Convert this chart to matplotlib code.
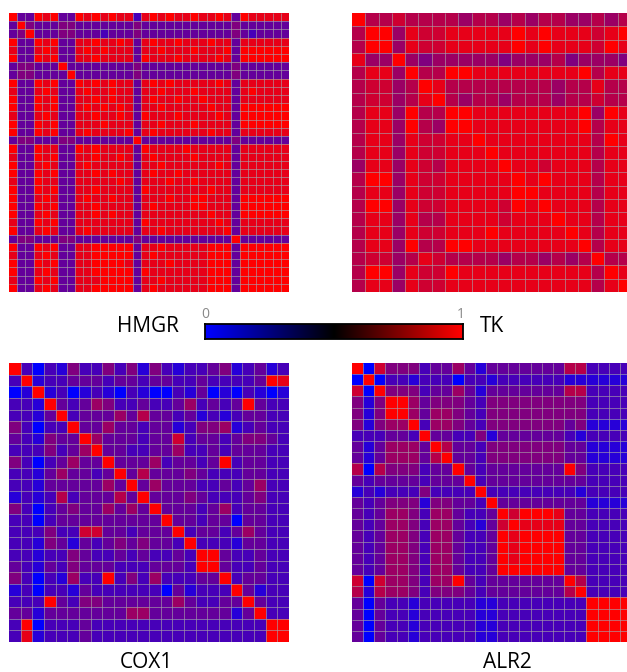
import matplotlib
matplotlib.use("Agg")
import matplotlib.pyplot as plt
import numpy as np
from matplotlib.colors import LinearSegmentedColormap

# ======================
# data (similarity levels 0-9)
# ======================
hmgr_rows = [
    "9 33 989 33 9898988 2 89898898898 3 988888",
    "3 94 333 44 3333333 4 33333333333 4 333333",
    "3 49 333 44 3332333 4 33333333333 4 323333",
    "9 33 989 33 8898898 3 89889888988 3 888888",
    "8 33 898 33 8989888 3 88988898889 3 999999",
    "9 33 989 33 8898888 3 98889888898 3 999999",
    "3 44 333 93 3333333 4 33333333333 4 333333",
    "3 44 333 39 3333333 4 33333333333 4 333333",
    "9 33 989 33 9898988 3 89898888898 3 888888",
    "8 33 898 33 8988988 3 88988898888 3 898888",
    "9 33 989 33 8898988 3 89889889888 3 888888",
    "9 33 989 33 8989898 3 88988888988 3 999999",
    "8 33 898 33 8898898 3 98889888898 3 999999",
    "9 33 989 33 8889888 3 88988898888 3 999999",
    "9 33 989 33 8988889 3 89888888988 3 888888",
    "3 44 333 44 3333333 9 33333333333 4 333333",
    "9 33 988 33 9898888 3 98888988888 3 888888",
    "8 33 989 33 8898898 3 89888898888 3 888888",
    "9 33 898 33 8988888 3 88988888898 3 888888",
    "9 33 989 33 8898988 3 89889888888 3 888888",
    "8 33 988 33 8888898 3 88898898888 3 888888",
    "9 33 989 33 8898888 3 98888888988 3 888888",
    "9 33 898 33 8988988 3 88898899888 3 999999",
    "9 33 989 33 8898888 3 89888899888 3 999999",
    "9 33 898 33 8898988 3 88888888988 3 999999",
    "8 33 989 33 8888888 3 98888888898 3 888888",
    "9 33 898 33 8988888 3 88988888889 3 888888",
    "3 44 333 44 3333333 4 33333333333 9 333333",
    "9 33 989 33 8899999 3 88988888999 3 999999",
    "8 33 898 33 8899999 3 89888888999 3 999999",
    "9 33 989 33 8899998 3 88898888999 3 999999",
    "9 33 898 33 8899999 3 98888888999 3 999999",
    "8 33 989 33 8889999 3 88988888999 3 999999",
    "9 33 898 33 8899999 3 89888888999 3 999999",
]

tk_rows = [
    "96676 66656 65656 65565 6",
    "69958 77888 88989 88878 9",
    "69958 77888 88989 88879 8",
    "85595 45555 54555 64555 4",
    "68859 66998 88888 88968 8",
    "67756 98666 66666 56686 6",
    "67756 89656 65666 56676 6",
    "68859 66998 88888 88959 8",
    "68859 65998 88888 88968 8",
    "68858 77889 88888 88869 8",
    "68858 77888 98888 88868 8",
    "58858 76888 89887 88868 8",
    "69958 77888 88989 88868 8",
    "68858 77888 88998 88868 8",
    "69958 77888 87989 88868 8",
    "68858 66888 87888 98868 8",
    "68858 77888 98888 89868 8",
    "68859 66998 88888 88968 8",
    "67756 87666 65665 65696 6",
    "69958 77988 88888 88869 8",
    "68858 77888 88888 88868 9",
]

cox1_rows = [
    "920214 224241 421223 412312",
    "291223 332332 332232 222398",
    "019120 121021 002130 102101",
    "221932 354223 223523 239322",
    "221392 333536 332312 123322",
    "420229 335332 331244 512322",
    "321433 953332 337233 234432",
    "222423 593322 335223 233322",
    "420235 339333 523323 923322",
    "221353 323936 333432 223322",
    "221333 335393 533322 323522",
    "121262 333639 333432 223422",
    "420234 335353 933323 523322",
    "220233 333333 393323 303322",
    "222422 773323 339233 235322",
    "221431 323434 332922 213322",
    "221224 322323 223299 322322",
    "321324 333222 333299 322322",
    "420215 229242 522233 923322",
    "120221 322222 203122 293122",
    "222932 443333 335322 339322",
    "331333 333355 333333 313922",
    "290222 322222 222222 222299",
    "281222 322222 222222 222299",
]

alr2_rows = [
    "90744 42335 31333 33336 62222",
    "09022 12220 22122 22221 11111",
    "70944 42335 31333 33336 62222",
    "41499 53444 32444 44444 42222",
    "41499 53554 32444 44444 42222",
    "41455 92554 32444 44443 41111",
    "22233 29332 24133 33332 12222",
    "31355 53963 32444 44443 31111",
    "31355 53693 32444 44443 31111",
    "60644 42339 32333 33339 42222",
    "32333 32333 92333 33333 32222",
    "12122 24222 29222 22222 12222",
    "32344 41443 32933 33333 31111",
    "32355 42553 22397 99983 32222",
    "32355 42553 21379 88883 32222",
    "32355 42553 22398 99993 32222",
    "32355 42553 22398 99993 32222",
    "32355 42553 22398 99993 32222",
    "32355 42553 22399 99993 32222",
    "70755 42559 32333 33339 62222",
    "61655 42444 32333 33336 92222",
    "30322 12222 21122 22222 29999",
    "30322 12222 21122 22222 29999",
    "30322 12222 21122 22222 29999",
    "30322 12222 21122 22222 29999",
]

labels = ["HMGR", "TK", "COX1", "ALR2"]


def to_matrix(rows):
    return (np.array([[int(c) for c in r if c != " "] for r in rows]) / 9.0) ** 0.85


W, H = 627, 672
fig = plt.figure(figsize=(W / 100, H / 100), dpi=100)
plt.rcParams["font.family"] = ["Open Sans", "DejaVu Sans"]

cell_cmap = LinearSegmentedColormap.from_list("br", ["#0000ff", "#ff0000"])
bar_cmap = LinearSegmentedColormap.from_list("bkr", ["#0000ff", "#000000", "#ff0000"])


def px_axes(x0, y0, x1, y1):
    return fig.add_axes([x0 / W, 1 - y1 / H, (x1 - x0) / W, (y1 - y0) / H])


panels = [
    (hmgr_rows, (9, 13, 289, 292)),
    (tk_rows, (352, 13, 631, 292)),
    (cox1_rows, (9, 363, 289, 642)),
    (alr2_rows, (352, 363, 631, 642)),
]

for rows, box in panels:
    m = to_matrix(rows)
    nr, nc = m.shape
    ax = px_axes(*box)
    ax.pcolormesh(m, cmap=cell_cmap, vmin=0, vmax=1)
    # thin grey grid between cells
    ax.hlines(np.arange(1, nr), 0, nc, colors="#a8a0a8", linewidth=0.6, alpha=0.75)
    ax.vlines(np.arange(1, nc), 0, nr, colors="#a8a0a8", linewidth=0.6, alpha=0.75)
    ax.set_xlim(0, nc)
    ax.set_ylim(nr, 0)
    ax.axis("off")

# colour bar in the middle
cax = px_axes(205, 324, 463, 339)
grad = np.linspace(0, 1, 256).reshape(1, -1)
cax.imshow(grad, aspect="auto", cmap=bar_cmap, extent=(0, 1, 0, 1))
cax.set_xticks([])
cax.set_yticks([])
for s in cax.spines.values():
    s.set_linewidth(1.3)
    s.set_color("black")

fig.text(205 / W, 1 - 314 / H, "0", ha="center", va="center",
         fontsize=10, color="#888888")
fig.text(461 / W, 1 - 314 / H, "1", ha="center", va="center",
         fontsize=10, color="#888888")

fig.text(148 / W, 1 - 327 / H, labels[0], ha="center", va="center", fontsize=15)
fig.text(492 / W, 1 - 327 / H, labels[1], ha="center", va="center", fontsize=15)
fig.text(146 / W, 1 - 662 / H, labels[2], ha="center", va="center", fontsize=15)
fig.text(507 / W, 1 - 662 / H, labels[3], ha="center", va="center", fontsize=15)

fig.savefig("out.png", dpi=100)
